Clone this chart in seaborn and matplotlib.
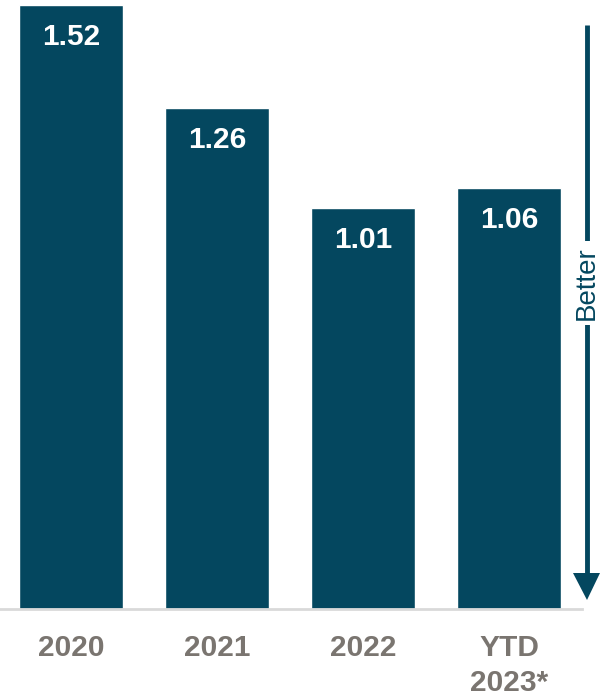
import matplotlib
matplotlib.use("Agg")
import matplotlib.pyplot as plt
import seaborn as sns
import pandas as pd

categories = ["2020", "2021", "2022", "YTD\n2023*"]
values = [1.52, 1.26, 1.01, 1.06]

BAR = "#04475f"
GREY = "#7a7570"

sns.set_theme(style="white")
plt.rcParams["font.family"] = ["Liberation Sans", "DejaVu Sans"]

W, H = 601, 700
fig = plt.figure(figsize=(W / 100, H / 100), dpi=100)

# axes spans from the left edge to just before the arrow; baseline at y=609 px
base_px = 609
ax = fig.add_axes([0, (H - base_px) / H, 582 / W, base_px / H])

df = pd.DataFrame({"cat": categories, "val": values})
sns.barplot(data=df, x="cat", y="val", color=BAR, saturation=1,
            width=104 / 146, ax=ax)

ax.set_xlim(-71 / 146, 3.5)
ax.set_ylim(0, 1.52 * base_px / 604)

for i, v in enumerate(values):
    ax.annotate(f"{v:.2f}", xy=(i, v), xytext=(0, -23), textcoords="offset points",
                ha="center", va="center", color="white", fontsize=21.5,
                fontweight="bold")

ax.set_xlabel("")
ax.set_ylabel("")
ax.set_yticks([])
ax.tick_params(axis="x", length=0, pad=18, labelsize=21.5, labelcolor=GREY)
for lbl in ax.get_xticklabels():
    lbl.set_fontweight("bold")
    lbl.set_linespacing(1.3)
for s in ["top", "right", "left"]:
    ax.spines[s].set_visible(False)
ax.spines["bottom"].set_color("#d9d9d9")
ax.spines["bottom"].set_linewidth(2)

# "Better" direction arrow on the right
x_arrow = 587 / W
fig.add_artist(plt.Line2D([x_arrow, x_arrow], [1 - 25 / H, 1 - 575 / H],
                          color=BAR, lw=3.5, solid_capstyle="butt"))
fig.add_artist(plt.Polygon([[573 / W, 1 - 573 / H], [600 / W, 1 - 573 / H],
                            [x_arrow, 1 - 600 / H]], closed=True,
                           color=BAR, lw=0))
fig.text(x_arrow, 1 - 283 / H, "Better", rotation=90, ha="center", va="center",
         fontsize=20, color=BAR,
         bbox=dict(facecolor="white", edgecolor="none", pad=4))

fig.savefig("out.png", dpi=100)
